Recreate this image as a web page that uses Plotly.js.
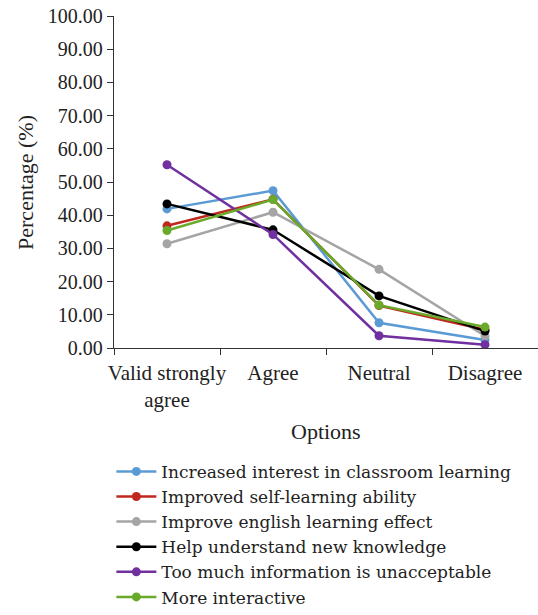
<!DOCTYPE html>
<html>
<head>
<meta charset="utf-8">
<script src="https://cdn.plot.ly/plotly-3.0.1.min.js"></script>
<style>html,body{margin:0;padding:0;background:#fff}#chart{width:538px;height:615px}</style>
</head>
<body>
<div id="chart"></div>
<script>
const categories = ["Valid strongly<br>agree", "Agree", "Neutral", "Disagree"];
const seriesNames = [
  "Increased interest in classroom learning",
  "Improved self-learning ability",
  "Improve english learning effect",
  "Help understand new knowledge",
  "Too much information is unacceptable",
  "More interactive"
];
const interestValues = [41.9, 47.4, 7.6, 2.4];
const selfLearningValues = [36.8, 44.8, 12.8, 5.5];
const englishValues = [31.4, 40.9, 23.7, 3.6];
const understandValues = [43.4, 35.6, 15.7, 5.1];
const tooMuchValues = [55.2, 34.2, 3.7, 1.0];
const interactiveValues = [35.4, 44.7, 12.9, 6.3];
const yTicks = [0, 10, 20, 30, 40, 50, 60, 70, 80, 90, 100];
const xTitle = "Options";
const yTitle = "Percentage (%)";

const allValues = [interestValues, selfLearningValues, englishValues, understandValues, tooMuchValues, interactiveValues];
const colors = ["#5b9bd5", "#c0281e", "#a5a5a5", "#000000", "#7030a0", "#6aaa2a"];
const font = "Liberation Serif, Times New Roman, serif";
const legendFont = "DejaVu Serif, serif";
const txt = "#222";

const traces = allValues.map((vals, i) => ({
  type: "scatter",
  mode: "lines+markers",
  x: categories,
  y: vals,
  name: seriesNames[i],
  line: {color: colors[i], width: 2.5},
  marker: {color: colors[i], size: 9}
}));

const layout = {
  width: 538,
  height: 615,
  margin: {l: 114, r: 0, t: 16, b: 267, autoexpand: false},
  paper_bgcolor: "#fff",
  plot_bgcolor: "#fff",
  font: {family: font, size: 20, color: txt},
  showlegend: true,
  legend: {
    orientation: "v",
    xref: "container", yref: "container",
    x: 0.207, xanchor: "left",
    y: 0.262, yanchor: "top",
    font: {family: legendFont, size: 17, color: txt},
    tracegroupgap: 0,
    itemwidth: 40
  },
  annotations: [
    {text: xTitle, xref: "paper", yref: "paper", x: 0.5, y: -0.252, xanchor: "center", yanchor: "middle",
     showarrow: false, font: {family: font, size: 22, color: txt}},
    {text: yTitle, xref: "paper", yref: "paper", x: -0.21, y: 0.5, xanchor: "center", yanchor: "middle",
     textangle: -90, showarrow: false, font: {family: font, size: 22, color: txt}}
  ],
  xaxis: {
    type: "category",
    range: [-0.5, 3.5],
    showline: true,
    linecolor: "#333",
    linewidth: 1.3,
    ticks: "outside",
    tickson: "boundaries",
    ticklen: 6,
    tickcolor: "#333",
    tickangle: 0,
    ticklabelstandoff: 5,
    showgrid: false,
    automargin: false,
    tickfont: {family: font, size: 21, color: txt}
  },
  yaxis: {
    range: [0, 100],
    tickvals: yTicks,
    tickformat: ".2f",
    showline: true,
    linecolor: "#333",
    linewidth: 1.3,
    ticks: "outside",
    ticklen: 6,
    tickcolor: "#333",
    showgrid: false,
    zeroline: false,
    automargin: false,
    tickfont: {family: font, size: 20, color: txt}
  }
};

Plotly.newPlot("chart", traces, layout, {displayModeBar: false, staticPlot: true});
</script>
</body>
</html>
